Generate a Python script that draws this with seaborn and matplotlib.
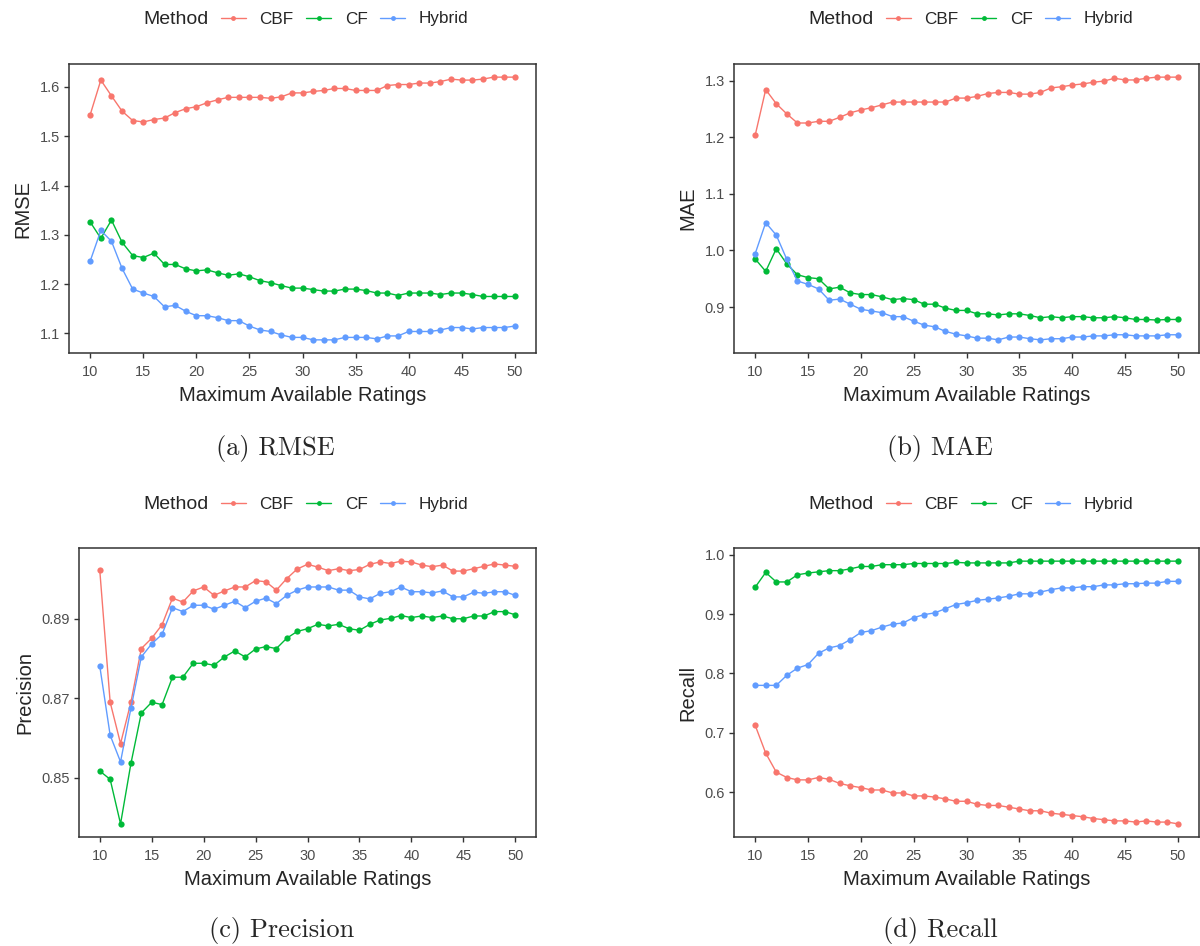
import pandas as pd
import matplotlib
matplotlib.use("Agg")
import matplotlib.pyplot as plt
import seaborn as sns
from matplotlib.lines import Line2D

ratings = list(range(10, 51))
methods = ["CBF", "CF", "Hybrid"]
colors = {"CBF": "#F8766D", "CF": "#00BA38", "Hybrid": "#619CFF"}

rmse_cbf = [1.544, 1.614, 1.582, 1.551, 1.532, 1.529, 1.534, 1.537, 1.548, 1.556,
            1.560, 1.568, 1.574, 1.579, 1.579, 1.579, 1.579, 1.577, 1.580, 1.588,
            1.588, 1.591, 1.593, 1.597, 1.597, 1.593, 1.593, 1.593, 1.603, 1.605,
            1.605, 1.608, 1.608, 1.611, 1.616, 1.614, 1.614, 1.616, 1.620, 1.620,
            1.620]
rmse_cf = [1.326, 1.293, 1.330, 1.285, 1.258, 1.254, 1.263, 1.240, 1.240, 1.231,
           1.227, 1.229, 1.223, 1.218, 1.221, 1.215, 1.207, 1.203, 1.197, 1.192,
           1.192, 1.189, 1.186, 1.186, 1.190, 1.190, 1.187, 1.182, 1.182, 1.177,
           1.182, 1.182, 1.182, 1.179, 1.182, 1.182, 1.179, 1.175, 1.175, 1.175,
           1.175]
rmse_hybrid = [1.247, 1.309, 1.287, 1.232, 1.190, 1.182, 1.175, 1.154, 1.157, 1.145,
               1.136, 1.136, 1.132, 1.126, 1.126, 1.115, 1.107, 1.104, 1.097, 1.092,
               1.092, 1.087, 1.087, 1.087, 1.092, 1.092, 1.092, 1.089, 1.095, 1.095,
               1.104, 1.104, 1.104, 1.107, 1.112, 1.112, 1.109, 1.112, 1.112, 1.112,
               1.115]

mae_cbf = [1.203, 1.284, 1.259, 1.241, 1.225, 1.225, 1.228, 1.228, 1.235, 1.243,
           1.248, 1.252, 1.257, 1.262, 1.262, 1.262, 1.262, 1.262, 1.262, 1.269,
           1.269, 1.272, 1.277, 1.279, 1.279, 1.276, 1.276, 1.279, 1.287, 1.289,
           1.292, 1.294, 1.297, 1.299, 1.304, 1.301, 1.301, 1.304, 1.306, 1.306,
           1.306]
mae_cf = [0.985, 0.963, 1.003, 0.976, 0.957, 0.952, 0.950, 0.932, 0.935, 0.925,
          0.922, 0.922, 0.918, 0.913, 0.915, 0.913, 0.905, 0.905, 0.898, 0.894,
          0.894, 0.888, 0.888, 0.886, 0.888, 0.888, 0.885, 0.881, 0.883, 0.881,
          0.883, 0.883, 0.881, 0.881, 0.883, 0.881, 0.878, 0.878, 0.877, 0.878,
          0.878]
mae_hybrid = [0.994, 1.049, 1.027, 0.984, 0.946, 0.940, 0.932, 0.912, 0.914, 0.905,
              0.896, 0.893, 0.890, 0.883, 0.883, 0.875, 0.868, 0.865, 0.857, 0.852,
              0.849, 0.845, 0.845, 0.842, 0.847, 0.847, 0.844, 0.842, 0.844, 0.844,
              0.847, 0.847, 0.849, 0.849, 0.851, 0.851, 0.849, 0.849, 0.849, 0.851,
              0.851]

prec_cbf = [0.9022, 0.8690, 0.8586, 0.8690, 0.8825, 0.8851, 0.8885, 0.8952, 0.8942, 0.8970,
            0.8980, 0.8959, 0.8970, 0.8980, 0.8980, 0.8996, 0.8993, 0.8972, 0.9001, 0.9025,
            0.9037, 0.9030, 0.9021, 0.9026, 0.9021, 0.9024, 0.9037, 0.9043, 0.9039, 0.9045,
            0.9043, 0.9035, 0.9031, 0.9035, 0.9020, 0.9020, 0.9026, 0.9032, 0.9038, 0.9035,
            0.9032]
prec_cf = [0.8517, 0.8496, 0.8384, 0.8536, 0.8663, 0.8690, 0.8684, 0.8753, 0.8753, 0.8788,
           0.8788, 0.8783, 0.8804, 0.8819, 0.8804, 0.8824, 0.8830, 0.8825, 0.8851, 0.8868,
           0.8875, 0.8886, 0.8882, 0.8886, 0.8875, 0.8871, 0.8886, 0.8897, 0.8901, 0.8908,
           0.8903, 0.8907, 0.8903, 0.8907, 0.8900, 0.8900, 0.8907, 0.8907, 0.8918, 0.8918,
           0.8910]
prec_hybrid = [0.8781, 0.8607, 0.8540, 0.8675, 0.8804, 0.8837, 0.8861, 0.8928, 0.8918, 0.8934,
               0.8934, 0.8924, 0.8934, 0.8944, 0.8928, 0.8944, 0.8952, 0.8938, 0.8959, 0.8972,
               0.8980, 0.8980, 0.8980, 0.8972, 0.8972, 0.8955, 0.8950, 0.8964, 0.8968, 0.8980,
               0.8968, 0.8968, 0.8965, 0.8970, 0.8955, 0.8955, 0.8967, 0.8964, 0.8968, 0.8968,
               0.8959]

rec_cbf = [0.713, 0.666, 0.634, 0.625, 0.621, 0.621, 0.625, 0.622, 0.615, 0.611,
           0.608, 0.604, 0.604, 0.599, 0.599, 0.594, 0.594, 0.592, 0.589, 0.585,
           0.585, 0.580, 0.578, 0.578, 0.575, 0.572, 0.569, 0.569, 0.565, 0.563,
           0.561, 0.559, 0.556, 0.554, 0.552, 0.552, 0.550, 0.552, 0.550, 0.550,
           0.547]
rec_cf = [0.945, 0.970, 0.954, 0.954, 0.966, 0.969, 0.971, 0.973, 0.973, 0.976,
          0.980, 0.980, 0.983, 0.983, 0.983, 0.985, 0.985, 0.985, 0.985, 0.987,
          0.986, 0.986, 0.986, 0.986, 0.986, 0.989, 0.989, 0.989, 0.989, 0.989,
          0.989, 0.989, 0.989, 0.989, 0.989, 0.989, 0.989, 0.989, 0.989, 0.989,
          0.989]
rec_hybrid = [0.780, 0.780, 0.780, 0.797, 0.809, 0.815, 0.834, 0.843, 0.847, 0.857,
              0.869, 0.872, 0.878, 0.883, 0.885, 0.894, 0.899, 0.902, 0.909, 0.916,
              0.919, 0.923, 0.925, 0.927, 0.930, 0.934, 0.934, 0.937, 0.941, 0.944,
              0.944, 0.946, 0.946, 0.949, 0.949, 0.951, 0.951, 0.952, 0.952, 0.955,
              0.955]

panels = [
    ("RMSE", "(a) RMSE", [rmse_cbf, rmse_cf, rmse_hybrid], [1.1, 1.2, 1.3, 1.4, 1.5, 1.6], "{:.1f}"),
    ("MAE", "(b) MAE", [mae_cbf, mae_cf, mae_hybrid], [0.9, 1.0, 1.1, 1.2, 1.3], "{:.1f}"),
    ("Precision", "(c) Precision", [prec_cbf, prec_cf, prec_hybrid], [0.85, 0.87, 0.89], "{:.2f}"),
    ("Recall", "(d) Recall", [rec_cbf, rec_cf, rec_hybrid], [0.6, 0.7, 0.8, 0.9, 1.0], "{:.1f}"),
]

sns.set_style("white")
plt.rcParams["font.family"] = ["Liberation Sans", "DejaVu Sans"]

W, H = 1200, 946
fig = plt.figure(figsize=(W / 100, H / 100), dpi=100)


def px_box(l, t, r, b):
    return [l / W, 1 - b / H, (r - l) / W, (b - t) / H]


boxes = [(69, 64, 536, 353), (734, 64, 1199, 353), (79, 548, 536, 837), (734, 548, 1199, 837)]
legend_pos = [(143, 19), (808, 19), (143, 504), (808, 504)]
caption_pos = [(275, 448), (940, 448), (282, 930), (940, 930)]

for (ylab, cap, series, yticks, fmt), bx, lp, cp in zip(panels, boxes, legend_pos, caption_pos):
    df = pd.DataFrame({
        "ratings": ratings * 3,
        "value": series[0] + series[1] + series[2],
        "Method": [m for m in methods for _ in ratings],
    })
    ax = fig.add_axes(px_box(*bx))
    sns.lineplot(data=df, x="ratings", y="value", hue="Method", palette=colors,
                 marker="o", markersize=4.5, markeredgewidth=0, linewidth=1.0,
                 ax=ax, legend=False)
    ax.set_xticks([10, 15, 20, 25, 30, 35, 40, 45, 50])
    ax.set_yticks(yticks)
    ax.set_yticklabels([fmt.format(t) for t in yticks])
    ax.set_xlabel("Maximum Available Ratings", fontsize=14.5, labelpad=5)
    ax.set_ylabel(ylab, fontsize=14.5, labelpad=5)
    ax.tick_params(axis="both", length=3.5, width=1.0, color="#333333",
                   labelsize=10.5, labelcolor="#4D4D4D", pad=3, direction="out",
                   bottom=True, left=True)
    ax.tick_params(axis="x", pad=5)
    for s in ax.spines.values():
        s.set_color("#333333")
        s.set_linewidth(1.1)

    fig.text(lp[0] / W, 1 - lp[1] / H, "Method", fontsize=14, va="center", ha="left")
    handles = [Line2D([0], [0], color=colors[m], lw=1.0, marker="o", markersize=3.5,
                      markeredgewidth=0) for m in methods]
    fig.legend(handles, methods, loc="center left",
               bbox_to_anchor=((lp[0] + 78) / W, 1 - lp[1] / H),
               ncol=3, frameon=False, fontsize=12.3, handlelength=1.45,
               handletextpad=0.8, columnspacing=0.75, borderpad=0, borderaxespad=0)
    fig.text(cp[0] / W, 1 - cp[1] / H, cap, fontsize=19, family="cmr10",
             ha="center", va="center")

fig.savefig("out.png", dpi=100)
